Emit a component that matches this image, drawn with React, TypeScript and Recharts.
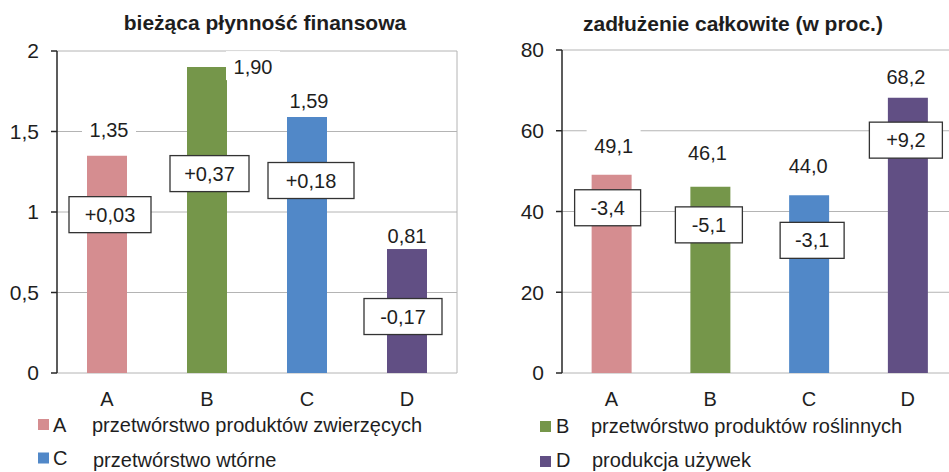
import React from "react";
import { BarChart, Bar, XAxis, YAxis, CartesianGrid, Cell, LabelList } from "recharts";

const kategorie = ["A", "B", "C", "D"];
const kolory = ["#D58D90", "#75964A", "#5188C8", "#614F84"];
const opisy = [
  "przetwórstwo produktów zwierzęcych",
  "przetwórstwo produktów roślinnych",
  "przetwórstwo wtórne",
  "produkcja używek",
];

// bieżąca płynność finansowa (wysokość słupków)
const plynnosc = [1.35, 1.9, 1.59, 0.77];
const plynnoscEtykiety = ["1,35", "1,90", "1,59", "0,81"];
const plynnoscZmiany = ["+0,03", "+0,37", "+0,18", "-0,17"];
const plynnoscTicks = [0, 0.5, 1, 1.5, 2];

// zadłużenie całkowite (w proc.)
const zadluzenie = [49.1, 46.1, 44.0, 68.2];
const zadluzenieZmiany = ["-3,4", "-5,1", "-3,1", "+9,2"];
const zadluzenieTicks = [0, 20, 40, 60, 80];

const krawedzie = [...kategorie.map((_, i) => i), kategorie.length];

// przesunięcia etykiet względem środka górnej krawędzi słupka: [dx, dy] / [dx, dy, szer]
const lewyEtykiety = [[2, -26], [46, 0], [2, -16], [0, -13]];
const lewyRamki = [[3, 59, 82], [2.5, 106.5, 79], [4, 63.5, 86], [-4, 67.5, 78]];
const prawyEtykiety = [[2, -29], [-3, -34], [-1, -29], [-2, -21]];
const prawyRamki = [[-4, 33, 66], [-1.5, 38, 67], [3, 45, 64], [-2, 42.5, 73]];

const TEKST = "#1e1e1e";
const OS = "#262626";
const FONT = 20;
const FONT_OSI = 21;

const przecinek = (v: number) => String(v).replace(".", ",");

const daneL = kategorie.map((k, i) => ({ kat: k, v: plynnosc[i] }));
const daneP = kategorie.map((k, i) => ({ kat: k, v: zadluzenie[i] }));

const geometria = (props: any) => {
  const vb = props.viewBox ?? props;
  return { x: vb.x as number, y: vb.y as number, w: vb.width as number, i: props.index as number };
};

const etykieta = (teksty: string[], przes: number[][]) => (props: any) => {
  const { x, y, w, i } = geometria(props);
  if (i == null || !przes[i]) return null;
  const cx = x + w / 2 + przes[i][0];
  const cy = y + przes[i][1];
  return (
    <g>
      <rect x={cx - 27} y={cy - 16} width={54} height={29} fill="#fff" />
      <text x={cx} y={cy + 7} textAnchor="middle" fontSize={FONT} fill={TEKST}>
        {teksty[i]}
      </text>
    </g>
  );
};

const ramka = (teksty: string[], przes: number[][]) => (props: any) => {
  const { x, y, w, i } = geometria(props);
  if (i == null || !przes[i]) return null;
  const cx = x + w / 2 + przes[i][0];
  const cy = y + przes[i][1];
  const sz = przes[i][2];
  return (
    <g>
      <rect x={cx - sz / 2} y={cy - 18} width={sz} height={36} fill="#fff" stroke="#333" strokeWidth={1.3} />
      <text x={cx} y={cy + 7} textAnchor="middle" fontSize={FONT} fill={TEKST}>
        {teksty[i]}
      </text>
    </g>
  );
};

function Wykres(props: {
  dane: { kat: string; v: number }[];
  szer: number;
  top: number;
  right: number;
  yWidth: number;
  domena: number[];
  ticks: number[];
  etykiety: string[];
  etPrzes: number[][];
  zmiany: string[];
  ramPrzes: number[][];
}) {
  return (
    <BarChart
      width={props.szer}
      height={472}
      data={props.dane}
      margin={{ top: props.top, right: props.right, bottom: 69, left: 0 }}
      barCategoryGap="30%"
    >
      <CartesianGrid
        xAxisId="kat"
        stroke="#b4b4b4"
        verticalCoordinatesGenerator={({ offset }: any) => [offset.left + offset.width]}
      />
      <XAxis
        xAxisId="kraw"
        type="number"
        domain={[0, kategorie.length]}
        ticks={krawedzie}
        allowDataOverflow
        tick={false}
        height={0}
        tickSize={6}
        axisLine={{ stroke: OS, strokeWidth: 1.5 }}
        tickLine={{ stroke: OS, strokeWidth: 1.5 }}
      />
      <XAxis
        xAxisId="kat"
        dataKey="kat"
        axisLine={false}
        tickLine={false}
        tickSize={0}
        tickMargin={19}
        height={30}
        tick={{ fill: TEKST, fontSize: FONT }}
      />
      <YAxis
        domain={props.domena}
        ticks={props.ticks}
        width={props.yWidth}
        tickSize={6}
        tickMargin={12}
        axisLine={{ stroke: OS, strokeWidth: 1.5 }}
        tickLine={{ stroke: OS, strokeWidth: 1.5 }}
        tick={{ fill: TEKST, fontSize: FONT_OSI }}
        tickFormatter={przecinek}
      />
      <Bar dataKey="v" xAxisId="kat" isAnimationActive={false}>
        {props.dane.map((d, i) => (
          <Cell key={d.kat} fill={kolory[i]} />
        ))}
        <LabelList dataKey="v" content={etykieta(props.etykiety, props.etPrzes)} />
        <LabelList dataKey="v" content={ramka(props.zmiany, props.ramPrzes)} />
      </Bar>
    </BarChart>
  );
}

// pozycje legendy: [indeks, kwadrat x, kwadrat y, litera x, tekst x, linia bazowa litery, linia bazowa tekstu]
const legenda = [
  [0, 38, 419, 53, 92, 431.5, 431.5],
  [2, 38, 452.5, 53, 93, 465, 467],
  [1, 540, 421, 556, 591, 433, 433],
  [3, 540, 456, 556, 592, 467, 467],
];

export default function App() {
  return (
    <div
      style={{
        position: "fixed",
        left: 0,
        top: 0,
        width: 949,
        height: 472,
        overflow: "hidden",
        background: "#fff",
        fontFamily: "'Liberation Sans', Arial, sans-serif",
      }}
    >
      <div style={{ position: "absolute", left: 0, top: 0 }}>
        <Wykres
          dane={daneL}
          szer={475}
          top={51}
          right={18}
          yWidth={57}
          domena={[0, 2]}
          ticks={plynnoscTicks}
          etykiety={plynnoscEtykiety}
          etPrzes={lewyEtykiety}
          zmiany={plynnoscZmiany}
          ramPrzes={lewyRamki}
        />
      </div>
      <div style={{ position: "absolute", left: 475, top: 0 }}>
        <Wykres
          dane={daneP}
          szer={482}
          top={50}
          right={0}
          yWidth={87}
          domena={[0, 80]}
          ticks={zadluzenieTicks}
          etykiety={zadluzenie.map((v) => v.toFixed(1).replace(".", ","))}
          etPrzes={prawyEtykiety}
          zmiany={zadluzenieZmiany}
          ramPrzes={prawyRamki}
        />
      </div>
      <svg width={949} height={472} style={{ position: "absolute", left: 0, top: 0, pointerEvents: "none" }}>
        <text x={265} y={30} textAnchor="middle" fontSize={21} fontWeight="bold" fill={TEKST}>
          bieżąca płynność finansowa
        </text>
        <text x={733} y={30.5} textAnchor="middle" fontSize={21} fontWeight="bold" fill={TEKST}>
          zadłużenie całkowite (w proc.)
        </text>
        {legenda.map(([i, sx, sy, lx, tx, lb, tb]) => (
          <g key={i}>
            <rect x={sx} y={sy} width={11} height={11} fill={kolory[i]} />
            <text x={lx} y={lb} fontSize={FONT} fill={TEKST}>
              {kategorie[i]}
            </text>
            <text x={tx} y={tb} fontSize={FONT} fill={TEKST}>
              {opisy[i]}
            </text>
          </g>
        ))}
      </svg>
    </div>
  );
}
